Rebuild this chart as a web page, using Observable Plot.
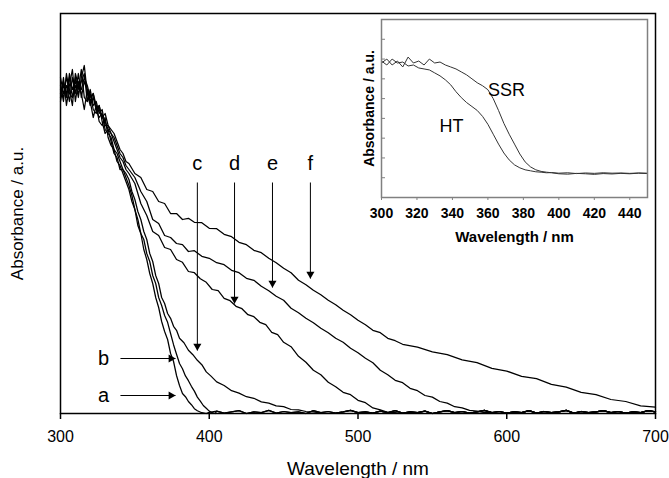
<!DOCTYPE html>
<html><head><meta charset="utf-8">
<script src="https://cdn.jsdelivr.net/npm/d3@7"></script>
<script src="https://cdn.jsdelivr.net/npm/@observablehq/plot@0.6"></script>
<style>
html,body{margin:0;padding:0;background:#fff;}
#wrap{position:relative;width:669px;height:478px;}
#wrap svg{position:absolute;}
</style></head><body><div id="wrap"></div>
<script>
// ---------- main chart data ----------
const xTicksMain = [300, 400, 500, 600, 700];
const wlStart = [300,302,304,306,308,310,312,314,316,318,320,322,324,326,328,330,332,334,336,338,340,342,344];
const startA = [0.79,0.84,0.77,0.82,0.86,0.78,0.83,0.80,0.76,0.81,0.78,0.74,0.77,0.73,0.72,0.74,0.69,0.67,0.66,0.63,0.62,0.60,0.58];
const startB = [0.82,0.78,0.85,0.80,0.79,0.84,0.81,0.86,0.79,0.78,0.80,0.76,0.75,0.77,0.73,0.70,0.71,0.68,0.65,0.64,0.61,0.61,0.59];
const startC = [0.80,0.83,0.79,0.85,0.81,0.83,0.79,0.84,0.87,0.80,0.77,0.79,0.76,0.74,0.75,0.71,0.70,0.69,0.66,0.65,0.63,0.61,0.60];
const startD = [0.84,0.80,0.82,0.78,0.84,0.80,0.85,0.79,0.83,0.81,0.78,0.80,0.76,0.77,0.74,0.73,0.71,0.70,0.68,0.66,0.64,0.63,0.61];
const startE = [0.78,0.82,0.80,0.84,0.79,0.82,0.80,0.83,0.85,0.78,0.81,0.77,0.78,0.75,0.76,0.72,0.72,0.70,0.69,0.67,0.65,0.64,0.62];
const startF = [0.81,0.79,0.84,0.81,0.77,0.85,0.82,0.81,0.84,0.82,0.79,0.80,0.77,0.76,0.74,0.75,0.72,0.71,0.70,0.68,0.66,0.65,0.63];

const wlA = [346,348,350,352,354,356,358,360,362,364,366,368,370,372,374,376,378,380,382,384,386,388,390,392,395,398];
const absA = [0.56,0.53,0.51,0.47,0.45,0.41,0.385,0.35,0.325,0.29,0.265,0.23,0.205,0.185,0.15,0.13,0.095,0.07,0.05,0.042,0.03,0.022,0.012,0.007,0.002,0.0];
const wlB = [346,348,350,352,354,356,358,360,362,364,366,368,370,372,374,376,378,380,382,384,386,388,390,392,394,396,398,400,402,404];
const absB = [0.57,0.545,0.51,0.485,0.45,0.435,0.40,0.38,0.345,0.325,0.29,0.27,0.245,0.228,0.20,0.172,0.148,0.125,0.112,0.094,0.082,0.068,0.056,0.041,0.031,0.02,0.013,0.006,0.002,0.0];
const wlC = [346,348,350,352,354,356,358,360,362,364,366,368,370,372,374,376,378,380,383,386,389,392,395,398,401,405,410,415,420,425,430,435,440,445,450,455,460,465,470,475,480];
const absC = [0.585,0.555,0.535,0.505,0.485,0.455,0.435,0.40,0.38,0.345,0.325,0.29,0.275,0.25,0.238,0.218,0.208,0.188,0.177,0.158,0.147,0.133,0.122,0.104,0.094,0.079,0.07,0.057,0.051,0.042,0.038,0.029,0.026,0.019,0.017,0.01,0.009,0.005,0.004,0.001,0.0];
const wlD = [346,350,354,358,362,366,370,374,378,382,386,390,394,398,402,406,410,414,418,422,426,430,434,438,442,446,450,455,460,465,470,475,480,485,490,495,500,505,510,515,520,525,530];
const absD = [0.60,0.575,0.525,0.495,0.455,0.445,0.415,0.41,0.385,0.378,0.355,0.352,0.337,0.328,0.31,0.307,0.288,0.282,0.268,0.262,0.247,0.242,0.228,0.222,0.203,0.197,0.178,0.167,0.143,0.128,0.108,0.097,0.078,0.067,0.053,0.047,0.033,0.027,0.014,0.009,0.003,0.002,0.0];
const wlE = [346,350,354,358,362,366,370,374,378,382,386,390,395,400,405,410,415,420,425,430,435,440,445,450,455,460,465,470,475,480,485,490,495,500,505,510,515,520,525,530,535,540,545,550,555,560,565,570,575,580,585,590,595];
const absE = [0.61,0.59,0.555,0.53,0.485,0.475,0.445,0.44,0.425,0.422,0.405,0.407,0.393,0.388,0.377,0.372,0.358,0.352,0.338,0.333,0.318,0.307,0.293,0.283,0.263,0.252,0.238,0.227,0.213,0.202,0.188,0.178,0.163,0.152,0.138,0.127,0.108,0.097,0.083,0.077,0.063,0.057,0.045,0.041,0.03,0.026,0.017,0.014,0.008,0.006,0.002,0.002,0.0];
const wlF = [346,350,354,358,362,366,370,374,378,382,386,390,395,400,405,410,415,420,425,430,435,440,445,450,455,460,465,470,475,480,485,490,495,500,505,510,515,520,525,530,540,550,560,570,580,590,600,610,620,630,640,650,660,670,680,690,700];
const absF = [0.625,0.60,0.59,0.56,0.555,0.53,0.525,0.50,0.5,0.485,0.488,0.478,0.477,0.463,0.462,0.448,0.442,0.428,0.422,0.408,0.402,0.388,0.377,0.363,0.352,0.333,0.322,0.308,0.297,0.283,0.272,0.258,0.247,0.233,0.222,0.208,0.202,0.188,0.182,0.173,0.166,0.154,0.147,0.134,0.127,0.113,0.106,0.093,0.087,0.073,0.066,0.053,0.047,0.035,0.03,0.019,0.016];
const wlBase = [400,405,410,415,420,425,430,435,440,445,450,455,460,465,470,475,480,485,490,495,500,505,510,515,520,525,530,535,540,545,550,555,560,565,570,575,580,585,590,595,600,605,610,615,620,625,630,635,640,645,650,655,660,665,670,675,680,685,690,695,700];
const absBase = [0.003,0.006,0.001,0.004,0.007,0.000,0.004,0.002,0.008,0.001,
                 0.005,0.002,0.004,0.000,0.007,0.002,0.005,0.001,0.004,0.008,
                 0.002,0.004,0.001,0.006,0.002,0.007,0.001,0.004,0.002,0.006,
                 0.000,0.004,0.007,0.002,0.005,0.001,0.004,0.008,0.002,0.005,
                 0.001,0.004,0.002,0.007,0.001,0.005,0.002,0.004,0.008,0.001,
                 0.005,0.002,0.004,0.007,0.002,0.005,0.001,0.004,0.002,0.007,
                 0.004];

// annotation labels (data units)
const vLabels = ["c", "d", "e", "f"];
const vArrowWl = [392, 417, 442.5, 468];
const vArrowTip = [0.1575, 0.275, 0.315, 0.3375];
const vArrowTop = 0.5775;
const vLabelY = 0.625;
const hLabels = ["a", "b"];
const hArrowAbs = [0.045, 0.1375];
const hArrowFrom = 340.3, hArrowTo = 377.3, hLabelWl = 329;

// ---------- inset data ----------
const xTicksInset = [300, 320, 340, 360, 380, 400, 420, 440];
const yTicksInset = [0.1, 0.2, 0.3, 0.4, 0.5, 0.6, 0.7, 0.8];
const insetWl = [300,303,306,309,312,315,318,321,324,327,330,333,336,339,342,345,348,351,354,357,360,363,366,369,372,375,378,381,384,387,390,393,396,400,405,410,415,420,425,430,435,440,445,450];
const absSSR = [0.68,0.70,0.67,0.69,0.66,0.71,0.68,0.69,0.67,0.70,0.68,0.685,0.67,0.66,0.65,0.635,0.62,0.60,0.58,0.565,0.545,0.50,0.44,0.375,0.32,0.27,0.22,0.18,0.155,0.14,0.132,0.128,0.125,0.12,0.118,0.122,0.12,0.117,0.121,0.119,0.122,0.12,0.123,0.121];
const absHT = [0.69,0.67,0.70,0.68,0.685,0.665,0.67,0.655,0.65,0.645,0.63,0.615,0.595,0.57,0.535,0.505,0.48,0.46,0.44,0.41,0.37,0.32,0.27,0.225,0.19,0.165,0.15,0.14,0.135,0.13,0.128,0.125,0.126,0.123,0.125,0.121,0.124,0.122,0.125,0.123,0.124,0.122,0.124,0.123];
const insetNames = ["SSR", "HT"];
const insetNameWl = [370.5, 339.5];
const insetNameAbs = [0.54, 0.36];

// ---------- build rows ----------
const font = "'Liberation Sans', Arial, Helvetica, sans-serif";
const curves = [
  ["a", startA, wlA, absA], ["b", startB, wlB, absB], ["c", startC, wlC, absC],
  ["d", startD, wlD, absD], ["e", startE, wlE, absE], ["f", startF, wlF, absF]
];
const mainRows = [];
for (const [name, st, wl, ab] of curves) {
  wlStart.forEach((w, i) => mainRows.push({curve: name, wl: w, abs: st[i]}));
  wl.forEach((w, i) => mainRows.push({curve: name, wl: w, abs: ab[i]}));
  const last = wl[wl.length - 1];
  wlBase.forEach((w, i) => { if (w > last) mainRows.push({curve: name, wl: w, abs: absBase[i]}); });
}
const vRows = vLabels.map((t, i) => ({t, wl: vArrowWl[i], tip: vArrowTip[i]}));
const hRows = hLabels.map((t, i) => ({t, abs: hArrowAbs[i]}));

const insetRows = [];
insetWl.forEach((w, i) => insetRows.push({s: "SSR", wl: w, abs: absSSR[i]}));
insetWl.forEach((w, i) => insetRows.push({s: "HT", wl: w, abs: absHT[i]}));
const insetNameRows = insetNames.map((t, i) => ({t, wl: insetNameWl[i], abs: insetNameAbs[i]}));

const main = Plot.plot({
  width: 669, height: 478,
  marginLeft: 60, marginRight: 14, marginTop: 13, marginBottom: 65,
  style: {fontFamily: font, background: "white", color: "black", overflow: "visible"},
  x: {domain: [300, 700]},
  y: {domain: [0, 1], axis: null},
  marks: [
    Plot.line(mainRows, {x: "wl", y: "abs", z: "curve", stroke: "black", strokeWidth: 1.25}),
    Plot.frame({stroke: "black", strokeWidth: 1.5}),
    Plot.axisX({ticks: xTicksMain, tickSize: 6, tickPadding: 11, fontSize: 16, label: null, strokeWidth: 1.5}),
    Plot.text(["Absorbance / a.u."], {frameAnchor: "left", textAnchor: "middle", lineAnchor: "middle", dx: -43, rotate: -90, fontSize: 17, text: d => d}),
    Plot.text(["Wavelength / nm"], {frameAnchor: "bottom", lineAnchor: "middle", dy: 55, fontSize: 19, text: d => d}),
    Plot.link(vRows, {x1: "wl", x2: "wl", y1: () => vArrowTop, y2: "tip", stroke: "black", strokeWidth: 1}),
    Plot.dot(vRows, {x: "wl", y: "tip", symbol: "triangle", r: 3, fill: "black", rotate: 180, dy: -4.5}),
    Plot.text(vRows, {x: "wl", y: () => vLabelY, text: "t", fontSize: 20}),
    Plot.link(hRows, {x1: () => hArrowFrom, x2: () => hArrowTo, y1: "abs", y2: "abs", stroke: "black", strokeWidth: 1}),
    Plot.dot(hRows, {x: () => hArrowTo, y: "abs", symbol: "triangle", r: 3, fill: "black", rotate: 90, dx: -4.5}),
    Plot.text(hRows, {x: () => hLabelWl, y: "abs", text: "t", fontSize: 20})
  ]
});
main.style.left = "0px"; main.style.top = "0px";

const inset = Plot.plot({
  width: 310, height: 250,
  marginLeft: 36, marginRight: 8, marginTop: 19, marginBottom: 53,
  style: {fontFamily: font, background: "transparent", color: "black", overflow: "visible"},
  x: {domain: [300, 450]},
  y: {domain: [0, 0.9]},
  marks: [
    Plot.line(insetRows, {x: "wl", y: "abs", z: "s", stroke: "#333", strokeWidth: 1}),
    Plot.frame({stroke: "#808080", strokeWidth: 1.5}),
    Plot.axisX({ticks: xTicksInset, tickSize: 3, tickPadding: 8, fontSize: 14, fontWeight: "bold", label: null, stroke: "#808080"}),
    Plot.axisY({ticks: yTicksInset, tickSize: -4, tickFormat: () => "", label: null, stroke: "#808080"}),
    Plot.text(["Absorbance / a.u."], {frameAnchor: "left", textAnchor: "middle", lineAnchor: "middle", dx: -12, rotate: -90, fontSize: 14, fontWeight: "bold", text: d => d}),
    Plot.text(["Wavelength / nm"], {frameAnchor: "bottom", lineAnchor: "middle", dy: 40, fontSize: 15, fontWeight: "bold", text: d => d}),
    Plot.text(insetNameRows, {x: "wl", y: "abs", text: "t", fontSize: 18})
  ]
});
inset.style.left = "345px"; inset.style.top = "0px";

const wrap = document.getElementById("wrap");
wrap.appendChild(main);
wrap.appendChild(inset);
</script>
</body></html>
